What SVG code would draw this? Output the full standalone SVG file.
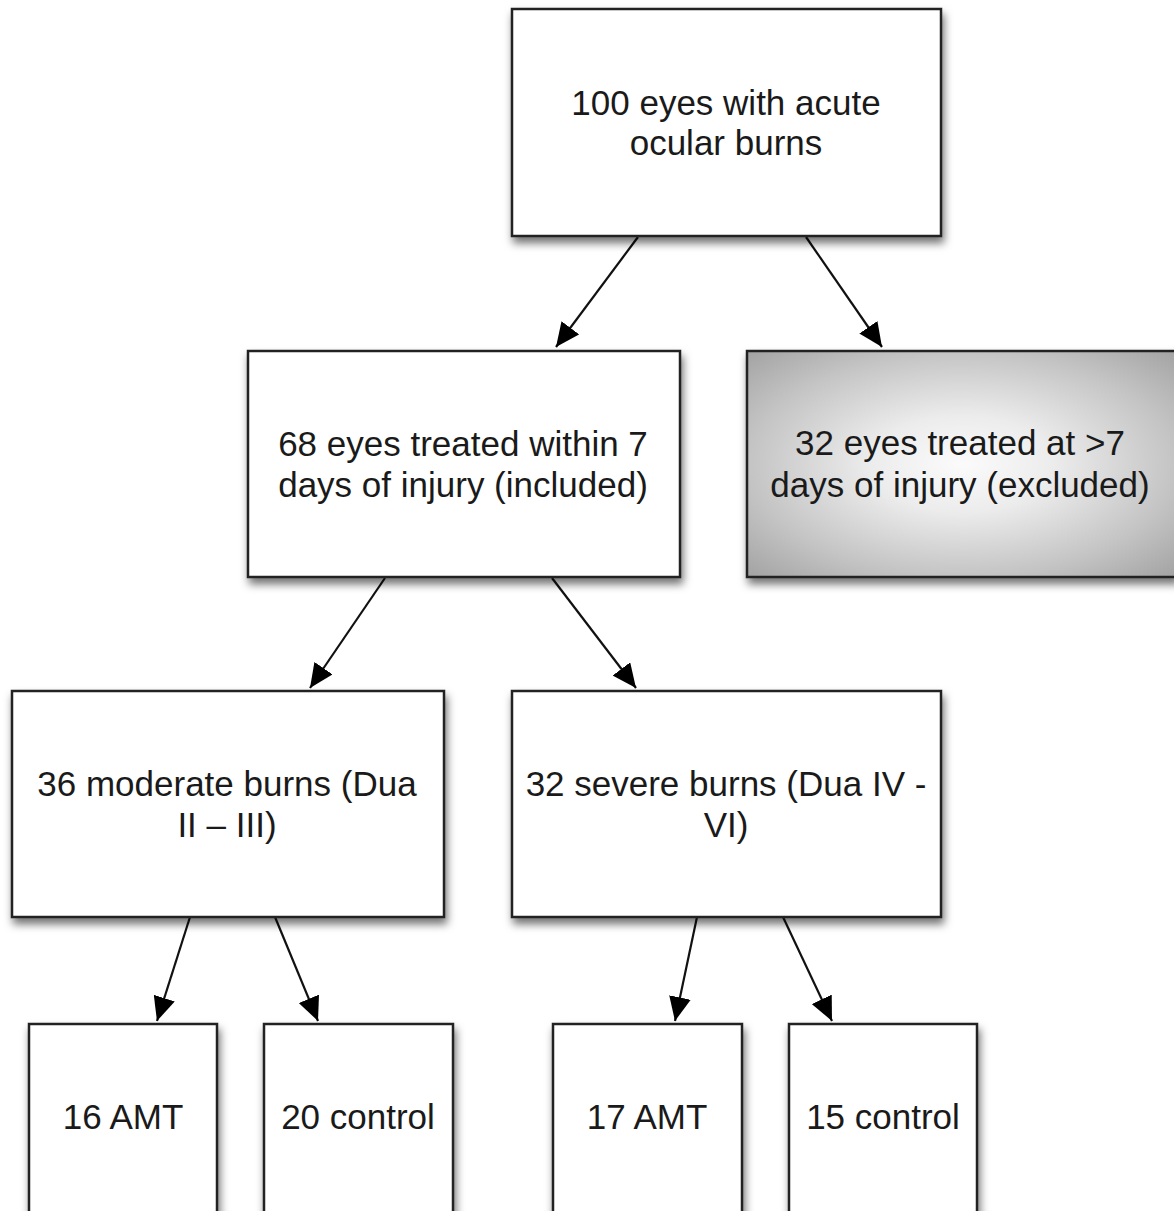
<svg xmlns="http://www.w3.org/2000/svg" width="1174" height="1211" viewBox="0 0 1174 1211">
<style>
.box{fill:#fff;stroke:#222;stroke-width:2.5;filter:url(#sh)}
.gray{fill:url(#rg);stroke:#222;stroke-width:2.5;filter:url(#sh)}
.t{font-family:"Liberation Sans",Arial,Helvetica,sans-serif;font-size:35px;fill:#1a1a1a;text-anchor:middle}
.c{stroke:#111;stroke-width:2.2;fill:none;marker-end:url(#ah)}
</style>
<defs>
<filter id="sh" x="-10%" y="-10%" width="130%" height="130%">
<feDropShadow dx="2" dy="6" stdDeviation="4" flood-color="#000" flood-opacity="0.55"/>
</filter>
<radialGradient id="rg" cx="0.5" cy="0.5" r="0.7071">
<stop offset="0" stop-color="#fbfbfb"/>
<stop offset="0.3" stop-color="#ececec"/>
<stop offset="0.7" stop-color="#c4c4c4"/>
<stop offset="1" stop-color="#a2a2a2"/>
</radialGradient>
<marker id="ah" markerUnits="userSpaceOnUse" markerWidth="26" markerHeight="22" refX="24" refY="11" orient="auto">
<path d="M0,0 L24,11 L0,22 z" fill="#000"/>
</marker>
</defs>
<rect width="1174" height="1211" fill="#fff"/>
<g id="connectors">
<line class="c" x1="638" y1="237" x2="556" y2="347"/>
<line class="c" x1="806" y1="237" x2="882" y2="347"/>
<line class="c" x1="385" y1="578" x2="310" y2="688"/>
<line class="c" x1="552" y1="578" x2="636" y2="688"/>
<line class="c" x1="190" y1="917" x2="157" y2="1021"/>
<line class="c" x1="275" y1="917" x2="318" y2="1021"/>
<line class="c" x1="697" y1="917" x2="675" y2="1021"/>
<line class="c" x1="783" y1="917" x2="832" y2="1021"/>
</g>
<g id="n1">
<rect class="box" x="512" y="9" width="429" height="227"/>
<text class="t" x="726" y="115">100 eyes with acute</text>
<text class="t" x="726" y="155">ocular burns</text>
</g>
<g id="n2">
<rect class="box" x="248" y="351" width="432" height="226"/>
<text class="t" x="463" y="456">68 eyes treated within 7</text>
<text class="t" x="463" y="497">days of injury (included)</text>
</g>
<g id="n3">
<rect class="gray" x="747" y="351" width="430" height="226"/>
<text class="t" x="960" y="455">32 eyes treated at &gt;7</text>
<text class="t" x="960" y="497">days of injury (excluded)</text>
</g>
<g id="n4">
<rect class="box" x="12" y="691" width="432" height="226"/>
<text class="t" x="227" y="796">36 moderate burns (Dua</text>
<text class="t" x="227" y="837">II – III)</text>
</g>
<g id="n5">
<rect class="box" x="512" y="691" width="429" height="226"/>
<text class="t" x="726" y="796">32 severe burns (Dua IV -</text>
<text class="t" x="726" y="837">VI)</text>
</g>
<g id="n6">
<rect class="box" x="29" y="1024" width="188" height="210"/>
<text class="t" x="123" y="1129">16 AMT</text>
</g>
<g id="n7">
<rect class="box" x="264" y="1024" width="189" height="210"/>
<text class="t" x="358" y="1129">20 control</text>
</g>
<g id="n8">
<rect class="box" x="553" y="1024" width="189" height="210"/>
<text class="t" x="647" y="1129">17 AMT</text>
</g>
<g id="n9">
<rect class="box" x="789" y="1024" width="188" height="210"/>
<text class="t" x="883" y="1129">15 control</text>
</g>
</svg>
